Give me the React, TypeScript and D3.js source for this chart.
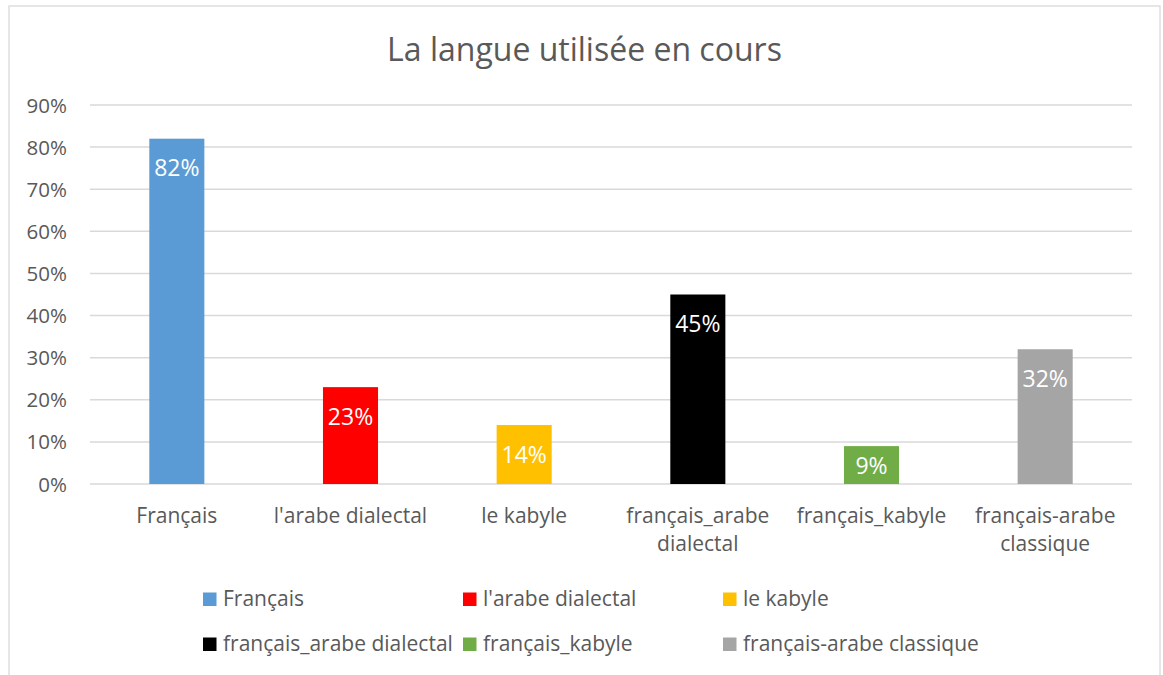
import React from "react";
import * as d3 from "d3";

const categories = [
  "Français",
  "l'arabe dialectal",
  "le kabyle",
  "français_arabe dialectal",
  "français_kabyle",
  "français-arabe classique",
];
const values = [0.82, 0.23, 0.14, 0.45, 0.09, 0.32];
const colors = ["#5B9BD5", "#FF0000", "#FFC000", "#000000", "#70AD47", "#A5A5A5"];
const yTicks = [0, 0.1, 0.2, 0.3, 0.4, 0.5, 0.6, 0.7, 0.8, 0.9];
const title = "La langue utilisée en cours";

const W = 1163;
const H = 675;
const FONT = "'Open Sans', 'Noto Sans', sans-serif";
const TXT = "#595959";

const plot = { left: 90, right: 1132, top: 105, bottom: 484 };

function measure(text: string, size: number): number {
  const c = document.createElement("canvas").getContext("2d");
  if (!c) return text.length * size * 0.5;
  c.font = `${size}px 'Open Sans'`;
  return c.measureText(text).width;
}

function wrap(text: string, maxW: number, size: number): string[] {
  if (measure(text, size) <= maxW) return [text];
  const words = text.split(" ");
  const lines: string[] = [];
  let cur = "";
  for (const w of words) {
    const t = cur ? cur + " " + w : w;
    if (cur && measure(t, size) > maxW) {
      lines.push(cur);
      cur = w;
    } else cur = t;
  }
  if (cur) lines.push(cur);
  return lines;
}

export default function App() {
  const x = d3.scaleBand<string>().domain(categories).range([plot.left, plot.right]).paddingInner(0).paddingOuter(0);
  const y = d3.scaleLinear().domain([0, 0.9]).range([plot.bottom, plot.top]);
  const barW = x.bandwidth() * 0.317;
  const fmt = d3.format(".0%");

  const legendCols = [203, 463, 723];
  const legendRows = [606, 651];
  const catSize = 21;

  return (
    <div style={{ position: "fixed", left: 0, top: 0, width: W, height: H, background: "#fff" }}>
      <svg width={W} height={H} style={{ display: "block" }} fontFamily={FONT}>
        <rect x={0} y={0} width={W} height={H} fill="#fff" />
        <rect x={9} y={6} width={1151} height={H + 20} fill="#fff" stroke="#D9D9D9" strokeWidth={1.3} />
        <text x={584.5} y={61} textAnchor="middle" fontSize={32} fill={TXT}>
          {title}
        </text>
        {yTicks.map((t) => (
          <g key={t}>
            <line x1={plot.left} x2={plot.right} y1={y(t)} y2={y(t)} stroke="#D9D9D9" strokeWidth={1.5} />
            <text x={67} y={y(t) + 7.5} textAnchor="end" fontSize={20.5} fill={TXT}>
              {fmt(t)}
            </text>
          </g>
        ))}
        {categories.map((c, i) => {
          const cx = (x(c) as number) + x.bandwidth() / 2;
          const top = y(values[i]);
          const lb = Math.min(top + 37.5, plot.bottom - 10.5);
          const lines = wrap(c, x.bandwidth() - 6, catSize);
          return (
            <g key={c}>
              <rect x={cx - barW / 2} y={top} width={barW} height={plot.bottom - top} fill={colors[i]} />
              <text x={cx} y={lb} textAnchor="middle" fontSize={23} fill="#fff">
                {fmt(values[i])}
              </text>
              <text textAnchor="middle" fontSize={catSize} fill={TXT}>
                {lines.map((l, k) => (
                  <tspan key={k} x={cx} y={523 + k * 28}>
                    {l}
                  </tspan>
                ))}
              </text>
            </g>
          );
        })}
        {categories.map((c, i) => {
          const lx = legendCols[i % 3];
          const ly = legendRows[Math.floor(i / 3)];
          return (
            <g key={"lg" + c}>
              <rect x={lx} y={ly - 13.5} width={13.5} height={13.5} fill={colors[i]} />
              <text x={lx + 20} y={ly} fontSize={21} fill={TXT}>
                {c}
              </text>
            </g>
          );
        })}
      </svg>
    </div>
  );
}
